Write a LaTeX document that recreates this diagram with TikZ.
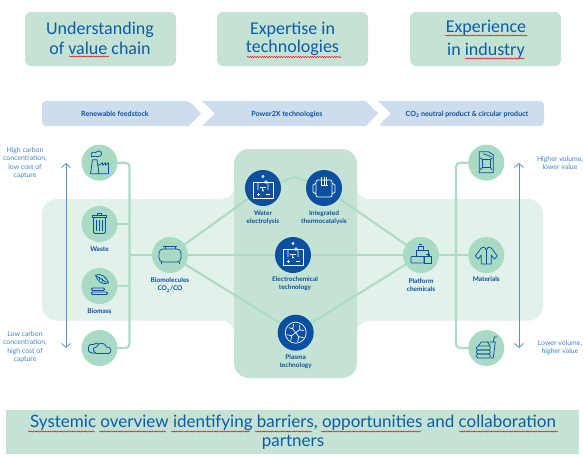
\documentclass[tikz,border=0pt]{standalone}
\usepackage{fontspec}
\setmainfont{Lato}
\newfontfamily\headfont{Carlito}
\usetikzlibrary{arrows.meta,decorations.pathmorphing}
\definecolor{boxgreen}{HTML}{C5E3D5}
\definecolor{bandgreen}{HTML}{E2F1EA}
\definecolor{circgreen}{HTML}{A9DAC4}
\definecolor{linegreen}{HTML}{ACDCC6}
\definecolor{chev}{HTML}{CDDDED}
\definecolor{deepblue}{HTML}{0A4FA0}
\definecolor{headblue}{HTML}{0B5CAB}
\definecolor{softblue}{HTML}{3E85C5}
\definecolor{arrowblue}{HTML}{5C92CB}
\pgfdeclarelayer{back}\pgfdeclarelayer{conn}
\pgfsetlayers{back,conn,main}
\tikzset{
 x=1pt,y=-1pt,
 topbox/.style={fill=boxgreen,rounded corners=6},
 toptext/.style={inner sep=0,text=headblue,font=\fontsize{18}{18}\headfont},
 chevtext/.style={inner sep=0,text=deepblue,font=\fontsize{7.1}{8}\selectfont\bfseries},
 lightc/.style={circle,fill=circgreen,minimum size=36,inner sep=0},
 darkc/.style={circle,fill=deepblue,minimum size=36,inner sep=0},
 lbl/.style={inner sep=0,align=center,text=deepblue,font=\fontsize{6.5}{8.2}\selectfont\bfseries},
 sidetxt/.style={inner sep=0,align=center,text=softblue,font=\fontsize{6.9}{8.5}\selectfont},
 conn/.style={draw=linegreen,line width=2.2},
 scale arrow/.style={draw=arrowblue,line width=.8,{Straight Barb[length=4,width=9]}-{Straight Barb[length=4,width=9]}},
 squig/.style={draw=red!85!black,line width=.45,decorate,decoration={snake,amplitude=.55,segment length=2.4}},
 icb/.style={draw=deepblue,line width=.75,line join=round,fill=none},
 icw/.style={draw=white,line width=.7,line join=round,fill=none},
}
\newcommand\iconcell[1]{\begin{scope}[shift={(#1)},icw]
 \draw[fill=none] (-10,-6) rectangle (10,10);
 \draw (0,-11.5) circle (1.2);
 \draw (-5,-6)--(-5,2) (5,-6)--(5,2) (3,-6) circle (1.3);
 \draw (-3,-1)--(3,-1) (-1,-1)--(-1,2);
 \fill[white] (0,2.5) circle (1);
 \draw (-6,6)--(-3,6) (-4.5,4.5)--(-4.5,7.5) (3,6)--(7,6);
\end{scope}}
\begin{document}
\begin{tikzpicture}
\useasboundingbox (0,0) rectangle (586,456);
% top boxes
\path[topbox] (25,12) rectangle (176,66);
\path[topbox] (217,12) rectangle (368,66);
\path[topbox] (410,12) rectangle (561,66);
\node[toptext] (t1a) at (100,30) {Understanding};
\node[toptext] (t1b) at (100,48) {of value chain};
\node[toptext] (t2a) at (292.5,30) {Expertise in};
\node[toptext] (t2b) at (292.5,48) {technologies};
\node[toptext] (t3a) at (486,28) {Experience};
\node[toptext] (t3b) at (486,51) {in industry};
\path[squig] (69,56.5)--(109,56.5);
\path[squig] (247,57)--(342,57);
\path[squig] (445,35.5)--(528,35.5);
\path[squig] (465,58.5)--(525,58.5);
% chevrons
\fill[chev,rounded corners=4] (42,114)--(42,101)--(189,101)[sharp corners]--(201,113.5)--(189,126)[rounded corners=4]--(42,126)--cycle;
\fill[chev] (202,101)--(366,101)--(378,113.5)--(366,126)--(202,126)--(215,113.5)--cycle;
\fill[chev,rounded corners=4] (378,101)--(544,101)--(544,126)--(378,126)[sharp corners]--(391,113.5)--cycle;
\node[chevtext] (c1) at (115,114) {Renewable feedstock};
\node[chevtext] (c2) at (287,114) {Power2X technologies};
\node[chevtext] (c3) at (467,114) {CO\textsubscript{2} neutral product \& circular product};
% circles
\node[lightc] (src1) at (99.5,162.7) {};
\node[lightc] (waste) at (99.5,224) {};
\node[lightc] (biomass) at (99.5,286) {};
\node[lightc] (src4) at (99.5,348) {};
\node[lightc] (biomol) at (170,255) {};
\node[lightc] (platform) at (421,255) {};
\node[lightc] (prod1) at (486.3,162.7) {};
\node[lightc] (materials) at (486.3,255) {};
\node[lightc] (prod3) at (486.3,348) {};
\node[darkc] (water) at (263,188) {};
\node[darkc] (thermo) at (324,188) {};
\node[darkc] (electro) at (293,255) {};
\node[darkc] (plasma) at (295.7,332.7) {};
\coordinate (apex) at (295,177);
\coordinate (busL) at (129.5,255);
\coordinate (busR) at (456,255);
\begin{pgfonlayer}{back}
 \path[fill=bandgreen,rounded corners=15] (42,199) rectangle (543,320.7);
 \path[fill=bandgreen] (220,199) .. controls (228,199) and (234,195) .. (234,187) -- (234,199) -- cycle;
 \path[fill=bandgreen] (371,199) .. controls (363,199) and (357,195) .. (357,187) -- (357,199) -- cycle;
 \path[fill=bandgreen] (220,320.7) .. controls (228,320.7) and (234,325) .. (234,333) -- (234,320.7) -- cycle;
 \path[fill=bandgreen] (371,320.7) .. controls (363,320.7) and (357,325) .. (357,333) -- (357,320.7) -- cycle;
 \path[fill=boxgreen,rounded corners=15] (234,149) rectangle (357,378);
\end{pgfonlayer}
\begin{pgfonlayer}{conn}
 \draw[conn,rounded corners=4] (src1.center) -- (src1.center -| busL) -- (src4.center -| busL) -- (src4.center);
 \draw[conn] (waste.center) -- (waste.center -| busL);
 \draw[conn] (biomass.center) -- (biomass.center -| busL);
 \draw[conn] (busL) -- (biomol.center);
 \draw[conn,rounded corners=4] (prod1.center) -- (prod1.center -| busR) -- (prod3.center -| busR) -- (prod3.center);
 \draw[conn] (biomol.center) -- (water.center) -- (apex) -- (thermo.center) -- (platform.center);
 \draw[conn] (biomol.center) -- (electro.center) -- (platform.center);
 \draw[conn] (biomol.center) -- (plasma.center) -- (platform.center);
 \draw[conn] (platform.center) -- (materials.center);
\end{pgfonlayer}
% side arrows
\coordinate (la) at (66,163); \coordinate (lb) at (66,348);
\coordinate (ra) at (519,163); \coordinate (rb) at (519,348);
\draw[scale arrow] (la) -- (lb);
\draw[scale arrow] (ra) -- (rb);
% labels
\node[sidetxt] (s1) at (25,163) {High carbon\\concentration,\\low cost of\\capture};
\node[sidetxt] (s2) at (25,347) {Low carbon\\concentration,\\high cost of\\capture};
\node[sidetxt] (s3) at (560,163) {Higher volume,\\lower value};
\node[sidetxt] (s4) at (560,347.5) {Lower volume,\\higher value};
\node[lbl] (l1) at (99.5,249.5) {Waste};
\node[lbl] (l2) at (99.5,311.5) {Biomass};
\node[lbl] (l3) at (170,285) {Biomolecules\\CO\textsubscript{2}/CO};
\node[lbl] (l4) at (263,218) {Water\\electrolysis};
\node[lbl] (l5) at (324,218) {Integrated\\thermocatalysis};
\node[lbl] (l6) at (295,284) {Electrochemical\\technology};
\node[lbl] (l7) at (295.7,362) {Plasma\\technology};
\node[lbl] (l8) at (421,285) {Platform\\chemicals};
\node[lbl] (l9) at (486.3,279) {Materials};
% icons
\begin{scope}[shift={(src1.center)},icb]
 \draw (-9,11)--(-7,-3)--(-2.5,-3)--(-0.5,11)--cycle;
 \draw (-1,11)--(9,11)--(9,0)--(6,2.5)--(6,0)--(3,2.5)--(3,0)--(-1.5,3);
 \draw (-8,-6) .. controls (-10,-11) and (-5,-11) .. (-4,-10) .. controls (-2,-13) and (3,-12) .. (2,-8) .. controls (1,-6) and (-3,-6) .. (-4,-6.5) -- (-8,-6);
\end{scope}
\begin{scope}[shift={(waste.center)},icb]
 \draw (-7,-9) rectangle (7,-6.5);
 \draw (-2,-9)--(-2,-10.5)--(2,-10.5)--(2,-9);
 \draw[rounded corners=1.5] (-6,-6.5)--(-6,9.5)--(6,9.5)--(6,-6.5);
 \draw (-3,-4)--(-3,7) (0,-4)--(0,7) (3,-4)--(3,7);
\end{scope}
\begin{scope}[shift={(biomass.center)},icb]
 \draw (-4,-11) .. controls (2,-13) and (7,-9) .. (9,-3) .. controls (3,-1) and (-2,-4) .. (-4,-11);
 \draw (-3,-10)--(7,-3.5) (0,-9)--(0,-6.5) (3,-7.5)--(3,-4.5);
 \draw[rounded corners=1] (-8,2) -- (5,2) -- (5,4.5) -- (-8,4.5) -- cycle;
 \draw[rounded corners=1] (-8,6) -- (8,6) -- (8,8.5) -- (-8,8.5) -- cycle;
\end{scope}
\begin{scope}[shift={(src4.center)},icb]
 \draw (-4,5) .. controls (-6.5,5.5) and (-13,5) .. (-11,-0.5) .. controls (-11,-4) and (-7,-4) .. (-6,-3.5) .. controls (-4.5,-6) and (-1.5,-5) .. (-1,-4);
 \draw (-4,5) .. controls (-7,3) and (-7,-1) .. (-3,-1) .. controls (-2,-6) and (6,-6) .. (7,-1) .. controls (12,-2) and (13,5) .. (9,5.5) -- (-4,5.5);
\end{scope}
\begin{scope}[shift={(biomol.center)},icb]
 \draw[rounded corners=4] (-11,-6) rectangle (11,7);
 \draw (-5,-6)--(-5,-9)--(5,-9)--(5,-6) (-7,-9)--(7,-9);
 \draw (-9,7)--(-9,9) (9,7)--(9,9);
\end{scope}
\iconcell{water.center}
\iconcell{electro.center}
\begin{scope}[shift={(thermo.center)},icw]
 \draw[rounded corners=2] (-8,-8) rectangle (8,9);
 \draw (-8,-5)--(-11,-3)--(-11,4)--(-8,6) (8,-5)--(11,-3)--(11,4)--(8,6);
 \draw (-2.5,-11)--(-2.5,-3) (0,-11)--(0,-3) (2.5,-11)--(2.5,-3);
 \draw (-3.5,-3)--(3.5,-3);
\end{scope}
\begin{scope}[shift={(plasma.center)},icw]
 \draw (0,0) circle (10.5);
 \draw (0,0)--(-3,-4)--(-7,-5) (-3,-4)--(-2,-9);
 \draw (0,0)--(4,-3)--(8,-2) (4,-3)--(4,-8);
 \draw (0,0)--(3,4)--(8,5) (3,4)--(2,9);
 \draw (0,0)--(-4,3)--(-9,2) (-4,3)--(-5,8);
\end{scope}
\begin{scope}[shift={(platform.center)},icb]
 \draw[rounded corners=.8] (-10,1.5) rectangle (3,8);
 \draw (3,1.5) rectangle (10,8);
 \draw (-5,-5) rectangle (7,1.5);
 \draw (-3,-9) rectangle (2,-5);
 \draw (-2,-10.5)--(1,-10.5) (8,1.5)--(8,-0.5)--(5,-0.5);
\end{scope}
\begin{scope}[shift={(prod1.center)},icb]
 \draw (-7,-11)--(-7,10)--(7,10)--(7,-8)--(2,-11)--cycle;
 \draw (-4,-3) rectangle (4,5);
 \draw (-4,-3)--(-6,-5) (4,-3)--(6,-5) (-4,5)--(-6,7) (4,5)--(6,7);
 \draw (-3,-9)--(5,-6);
\end{scope}
\begin{scope}[shift={(materials.center)},icb]
 \draw (-5,-7)--(-11,1)--(-8,4)--(-5,0)--(-5,9)--(5,9)--(5,0)--(8,4)--(11,1)--(5,-7)--(2,-8)--(0,-5)--(-2,-8)--cycle;
 \draw (0,-5)--(0,9);
\end{scope}
\begin{scope}[shift={(prod3.center)},icb]
 \draw[rounded corners=1.5] (-10,-2) rectangle (4,2);
 \draw[rounded corners=1.5] (-10,2) rectangle (4,6);
 \draw[rounded corners=1.5] (-10,6) rectangle (4,10);
 \draw (-8,-2)--(-5,-6)--(1,-6)--(4,-2);
 \draw (1,-6)--(9,-6)--(7,10)--(4,10);
 \draw (7,-6)--(8,-11)--(11,-11);
\end{scope}
% bottom banner
\fill[boxgreen] (6,410) rectangle (579,454);
\node[inner sep=0,text=headblue,font=\fontsize{17}{17}\selectfont] (b1) at (293,423) {Systemic overview identifying barriers, opportunities and collaboration};
\node[inner sep=0,text=headblue,font=\fontsize{17}{17}\selectfont] (b2) at (293,442) {partners};
\path[squig] (28,431.5)--(95,431.5);
\path[squig] (99,431.5)--(166,431.5);
\path[squig] (171,431.5)--(250,431.5);
\path[squig] (255,431.5)--(312,431.5);
\path[squig] (321,431.5)--(421,431.5);
\path[squig] (459,431.5)--(558,431.5);
\end{tikzpicture}
\end{document}
